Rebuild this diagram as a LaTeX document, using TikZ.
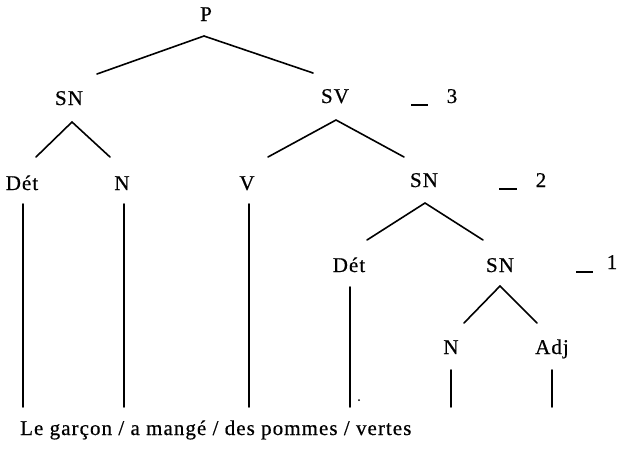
\documentclass[tikz,border=0pt]{standalone}
\usepackage{fontspec}
\setmainfont{Liberation Serif}[LetterSpace=5,FakeBold=0.6]
\usetikzlibrary{calc}
\begin{document}
\begin{tikzpicture}[x=1pt,y=-1pt,
  lbl/.style={anchor=base,inner sep=0pt,font=\fontsize{21}{25}\selectfont},
  edge/.style={line width=1.6pt,line cap=round},
  levelmark/.style={line width=1.4pt}]
\useasboundingbox (0,0) rectangle (620,448);
% category labels
\node[lbl] (P) at (206,21) {P};
\node[lbl] (SNa) at (69,105) {SN};
\node[lbl] (SV) at (335,103) {SV};
\node[lbl] (Det1) at (22,190) {Dét};
\node[lbl] (N1) at (122,190) {N};
\node[lbl] (V) at (247,190) {V};
\node[lbl] (SNb) at (424,187) {SN};
\node[lbl] (Det2) at (349,272) {Dét};
\node[lbl] (SNc) at (500,272) {SN};
\node[lbl] (N2) at (451,354) {N};
\node[lbl] (Adj) at (552,354) {Adj};
% level numbers
\node[lbl] (L3) at (452,103) {3};
\node[lbl] (L2) at (541,187) {2};
\node[lbl] (L1) at (612,269) {1};
\coordinate (u3a) at (411,105); \coordinate (u3b) at (428,105);
\coordinate (u2a) at (499,189); \coordinate (u2b) at (517,189);
\coordinate (u1a) at (576,272); \coordinate (u1b) at (593,272);
\draw[levelmark] (u3a) -- (u3b);
\draw[levelmark] (u2a) -- (u2b);
\draw[levelmark] (u1a) -- (u1b);
% sentence
\node[lbl,anchor=base west] (S) at (20,435) {Le garçon / a mangé / des pommes / vertes};
% branches
\draw[edge] ($(P.base)+(-2,15)$) -- ($(SNa.base)+(28,-31)$);
\draw[edge] ($(P.base)+(-2,15)$) -- ($(SV.base)+(-22,-30)$);
\draw[edge] ($(SNa.base)+(3,17)$) -- ($(Det1.base)+(14,-33)$);
\draw[edge] ($(SNa.base)+(3,17)$) -- ($(N1.base)+(-12,-33)$);
\draw[edge] ($(SV.base)+(1,17)$) -- ($(V.base)+(21,-33)$);
\draw[edge] ($(SV.base)+(1,17)$) -- ($(SNb.base)+(-20,-30)$);
\draw[edge] ($(SNb.base)+(1,16)$) -- ($(Det2.base)+(18,-32)$);
\draw[edge] ($(SNb.base)+(1,16)$) -- ($(SNc.base)+(-17,-32)$);
\draw[edge] ($(SNc.base)+(0,14)$) -- ($(N2.base)+(13,-31)$);
\draw[edge] ($(SNc.base)+(0,14)$) -- ($(Adj.base)+(-15,-31)$);
% vertical stems
\draw[edge] ($(Det1.base)+(1,14)$) -- ($(Det1.base)+(1,217)$);
\draw[edge] ($(N1.base)+(2,14)$) -- ($(N1.base)+(2,217)$);
\draw[edge] ($(V.base)+(2,14)$) -- ($(V.base)+(2,217)$);
\draw[edge] ($(Det2.base)+(1,15)$) -- ($(Det2.base)+(1,135)$);
\draw[edge] ($(N2.base)+(0,16)$) -- ($(N2.base)+(0,53)$);
\draw[edge] ($(Adj.base)+(0,16)$) -- ($(Adj.base)+(0,53)$);
\fill ($(Det2.base)+(10,128)$) circle (1pt);
\end{tikzpicture}
\end{document}
